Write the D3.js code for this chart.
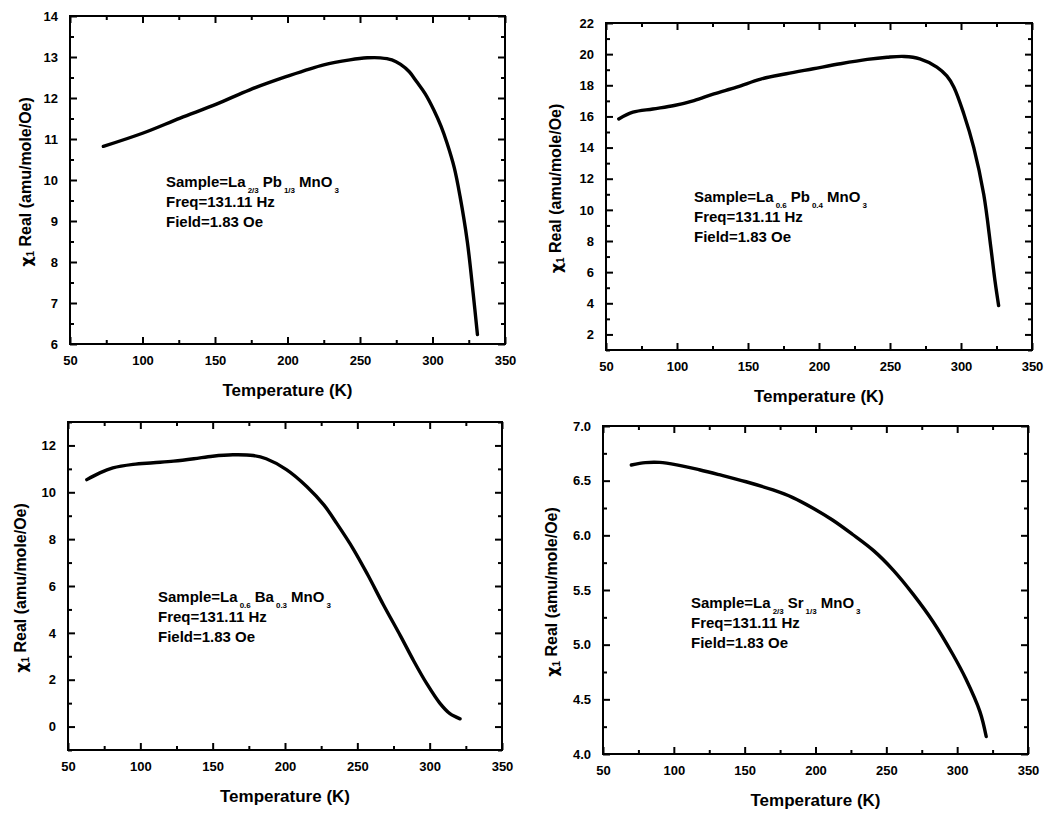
<!DOCTYPE html>
<html>
<head>
<meta charset="utf-8">
<script src="https://cdn.jsdelivr.net/npm/d3@7"></script>
<style>
  body { margin: 0; background: #fff; }
  svg { display: block; }
  text { font-family: "Liberation Sans", Arial, sans-serif; font-weight: bold; fill: #000; }
</style>
</head>
<body>
<svg id="chart" width="1052" height="813"></svg>
<script>
// ---- Data ----
const xTicks = [50, 100, 150, 200, 250, 300, 350];

// Panel A: La2/3Pb1/3MnO3
const tempA = [73, 100, 126, 151, 174, 199, 225, 243, 255, 264, 272, 278, 284, 289, 295, 301, 306, 310, 315, 319, 324, 328, 331];
const chiA  = [10.82, 11.14, 11.51, 11.85, 12.2, 12.52, 12.81, 12.93, 12.98, 12.98, 12.93, 12.82, 12.64, 12.4, 12.1, 11.7, 11.3, 10.9, 10.3, 9.6, 8.5, 7.25, 6.23];
const yTicksA = [6, 7, 8, 9, 10, 11, 12, 13, 14];

// Panel B: La0.6Pb0.4MnO3
const tempB = [59, 69, 83, 98, 112, 126, 142, 159, 177, 196, 215, 234, 248, 260, 271, 283, 290, 295, 302, 309, 316, 321, 324, 326.5];
const chiB  = [15.84, 16.27, 16.48, 16.7, 17.02, 17.45, 17.88, 18.4, 18.74, 19.06, 19.38, 19.66, 19.8, 19.85, 19.7, 19.17, 18.6, 17.88, 16.16, 14.0, 11.0, 7.6, 5.4, 3.85];
const yTicksB = [2, 4, 6, 8, 10, 12, 14, 16, 18, 20, 22];

// Panel C: La0.6Ba0.3MnO3
const tempC = [63, 72, 81, 95, 109, 123, 137, 150, 164, 178, 187, 201, 215, 227, 236, 247, 257, 268, 280, 289, 298, 307, 314, 321];
const chiC  = [10.54, 10.83, 11.04, 11.19, 11.26, 11.33, 11.43, 11.54, 11.6, 11.57, 11.43, 10.97, 10.25, 9.45, 8.65, 7.6, 6.5, 5.2, 3.85, 2.8, 1.83, 1.0, 0.55, 0.33];
const yTicksC = [0, 2, 4, 6, 8, 10, 12];

// Panel D: La2/3Sr1/3MnO3
const tempD = [70, 80, 90, 102, 118, 132, 151, 170, 184, 198, 212, 226, 241, 255, 269, 283, 297, 306, 316, 320.5];
const chiD  = [6.643, 6.665, 6.667, 6.645, 6.6, 6.555, 6.49, 6.415, 6.345, 6.25, 6.14, 6.01, 5.86, 5.68, 5.46, 5.21, 4.91, 4.69, 4.39, 4.16];
const yTicksD = [4.0, 4.5, 5.0, 5.5, 6.0, 6.5, 7.0];

const panels = [
  { temp: tempA, chi: chiA, yTicks: yTicksA, yDomain: [6, 14], yMinorStep: 0.5, fmt: d3.format("d"),
    box: { l: 70, r: 505, t: 16, b: 344 }, yTitleX: 27,
    note: { x: 166, y: 187, sample: [["Sample=La", ""], ["2/3", "sub"], ["Pb", ""], ["1/3", "sub"], ["MnO", ""], ["3", "sub"]] } },
  { temp: tempB, chi: chiB, yTicks: yTicksB, yDomain: [1, 22], yMinorStep: 1, fmt: d3.format("d"),
    box: { l: 606, r: 1032, t: 23, b: 350 }, yTitleX: 557,
    note: { x: 694, y: 202, sample: [["Sample=La", ""], ["0.6", "sub"], ["Pb", ""], ["0.4", "sub"], ["MnO", ""], ["3", "sub"]] } },
  { temp: tempC, chi: chiC, yTicks: yTicksC, yDomain: [-1, 13], yMinorStep: 1, fmt: d3.format("d"),
    box: { l: 68, r: 502, t: 422, b: 750 }, yTitleX: 22,
    note: { x: 158, y: 602, sample: [["Sample=La", ""], ["0.6", "sub"], ["Ba", ""], ["0.3", "sub"], ["MnO", ""], ["3", "sub"]] } },
  { temp: tempD, chi: chiD, yTicks: yTicksD, yDomain: [4, 7], yMinorStep: 0.25, fmt: d3.format(".1f"),
    box: { l: 603, r: 1028, t: 426, b: 754 }, yTitleX: 553,
    note: { x: 691, y: 608, sample: [["Sample=La", ""], ["2/3", "sub"], ["Sr", ""], ["1/3", "sub"], ["MnO", ""], ["3", "sub"]] } }
];

const svg = d3.select("#chart");

function minorTicks(domain, step, majors) {
  const out = [];
  const start = Math.ceil(domain[0] / step) * step;
  for (let v = start; v <= domain[1] + 1e-9; v += step) {
    const r = Math.round(v * 1000) / 1000;
    if (!majors.some(m => Math.abs(m - r) < 1e-6)) out.push(r);
  }
  return out;
}

panels.forEach(p => {
  const { l, r, t, b } = p.box;
  const x = d3.scaleLinear().domain([50, 350]).range([l, r]);
  const y = d3.scaleLinear().domain(p.yDomain).range([b, t]);
  const g = svg.append("g");

  const xMinor = minorTicks([50, 350], 25, xTicks);
  const yMinor = minorTicks(p.yDomain, p.yMinorStep, p.yTicks);

  const styleAxis = sel => {
    sel.select(".domain").remove();
    sel.selectAll("line").attr("stroke", "#000").attr("stroke-width", 2);
    sel.selectAll("text").attr("font-size", 13).attr("font-family", "'Liberation Sans', Arial, sans-serif").attr("font-weight", "bold");
  };

  // bottom
  g.append("g").attr("transform", `translate(0,${b})`)
    .call(d3.axisBottom(x).tickValues(xTicks).tickSize(-7).tickPadding(12).tickFormat(d3.format("d")))
    .call(styleAxis);
  g.append("g").attr("transform", `translate(0,${b})`)
    .call(d3.axisBottom(x).tickValues(xMinor).tickSize(-4).tickFormat(""))
    .call(styleAxis);
  // top
  g.append("g").attr("transform", `translate(0,${t})`)
    .call(d3.axisTop(x).tickValues(xTicks).tickSize(-7).tickFormat(""))
    .call(styleAxis);
  g.append("g").attr("transform", `translate(0,${t})`)
    .call(d3.axisTop(x).tickValues(xMinor).tickSize(-4).tickFormat(""))
    .call(styleAxis);
  // left
  g.append("g").attr("transform", `translate(${l},0)`)
    .call(d3.axisLeft(y).tickValues(p.yTicks).tickSize(-7).tickPadding(12).tickFormat(p.fmt))
    .call(styleAxis);
  g.append("g").attr("transform", `translate(${l},0)`)
    .call(d3.axisLeft(y).tickValues(yMinor).tickSize(-4).tickFormat(""))
    .call(styleAxis);
  // right
  g.append("g").attr("transform", `translate(${r},0)`)
    .call(d3.axisRight(y).tickValues(p.yTicks).tickSize(-7).tickFormat(""))
    .call(styleAxis);
  g.append("g").attr("transform", `translate(${r},0)`)
    .call(d3.axisRight(y).tickValues(yMinor).tickSize(-4).tickFormat(""))
    .call(styleAxis);

  // frame
  g.append("rect").attr("x", l).attr("y", t).attr("width", r - l).attr("height", b - t)
    .attr("fill", "none").attr("stroke", "#000").attr("stroke-width", 2);

  // curve
  const pts = p.temp.map((T, i) => [T, p.chi[i]]);
  g.append("path").datum(pts)
    .attr("fill", "none").attr("stroke", "#000").attr("stroke-width", 3.4)
    .attr("stroke-linecap", "round").attr("stroke-linejoin", "round")
    .attr("d", d3.line().x(d => x(d[0])).y(d => y(d[1])).curve(d3.curveCatmullRom.alpha(0.5)));

  // axis titles
  g.append("text").attr("x", (l + r) / 2).attr("y", b + 52).attr("text-anchor", "middle")
    .attr("font-size", 17).text("Temperature (K)");
  const yt = g.append("text").attr("transform", `translate(${p.yTitleX},${(t + b) / 2 + 2}) rotate(-90)`)
    .attr("text-anchor", "middle").attr("dominant-baseline", "middle").attr("font-size", 16);
  yt.append("tspan").attr("font-family", "'DejaVu Sans', sans-serif").text("χ");
  yt.append("tspan").attr("font-size", 10).attr("dy", 4).text("1");
  yt.append("tspan").attr("dy", -4).text(" Real (amu/mole/Oe)");

  // annotation
  const n = p.note;
  const s = g.append("text").attr("x", n.x).attr("y", n.y).attr("font-size", 15);
  let shifted = false;
  n.sample.forEach(([txt, kind]) => {
    const ts = s.append("tspan").text(txt);
    if (kind === "sub") { ts.attr("font-size", 8).attr("dy", 6).attr("dx", 2); shifted = true; }
    else if (shifted) { ts.attr("dy", -6).attr("dx", 4); shifted = false; }
  });
  g.append("text").attr("x", n.x).attr("y", n.y + 20).attr("font-size", 15).text("Freq=131.11 Hz");
  g.append("text").attr("x", n.x).attr("y", n.y + 40).attr("font-size", 15).text("Field=1.83 Oe");
});
</script>
</body>
</html>
